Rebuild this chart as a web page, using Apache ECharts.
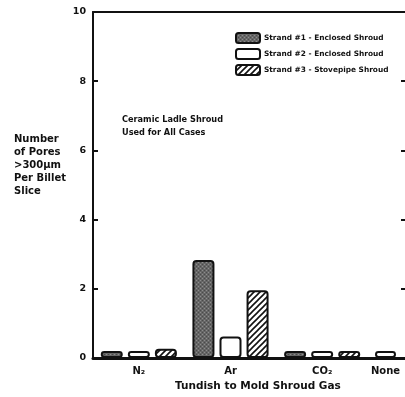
<!DOCTYPE html>
<html>
<head>
<meta charset="utf-8">
<script src="https://cdn.jsdelivr.net/npm/echarts@6/dist/echarts.min.js"></script>
<style>html,body{margin:0;padding:0;background:#fff;}#c{width:405px;height:397px;}</style>
</head>
<body>
<div id="c"></div>
<script>
// ---- data ----
var categories = ['N₂', 'Ar', 'CO₂', 'None'];
var strand1 = [0.2, 2.83, 0.2, null];
var strand2 = [0.2, 0.62, 0.2, 0.2];
var strand3 = [0.27, 1.96, 0.2, null];
var seriesNames = ['Strand #1 - Enclosed Shroud', 'Strand #2 - Enclosed Shroud', 'Strand #3 - Stovepipe Shroud'];
var yTicks = [0, 2, 4, 6, 8, 10];

// ---- patterns ----
function hatch() {
  var c = document.createElement('canvas'); c.width = 6; c.height = 6;
  var g = c.getContext('2d');
  g.fillStyle = '#fff'; g.fillRect(0, 0, 6, 6);
  g.strokeStyle = '#111'; g.lineWidth = 1.6;
  g.beginPath();
  g.moveTo(-1, 7); g.lineTo(7, -1);
  g.moveTo(-1, 1); g.lineTo(1, -1);
  g.moveTo(5, 7); g.lineTo(7, 5);
  g.stroke();
  return c;
}
function stipple() {
  var c = document.createElement('canvas'); c.width = 4; c.height = 4;
  var g = c.getContext('2d');
  g.fillStyle = '#666'; g.fillRect(0, 0, 4, 4);
  g.fillStyle = '#8c8c8c'; g.fillRect(0, 0, 1, 1); g.fillRect(2, 2, 1, 1);
  g.fillStyle = '#4a4a4a'; g.fillRect(2, 0, 1, 1); g.fillRect(0, 2, 1, 1);
  return c;
}

var FONT = '"DejaVu Sans", sans-serif';
var ink = '#111';
var main = categories.slice(0, 3);
var extra = categories.slice(3);

var baseItem = { borderColor: ink, borderWidth: 2, borderRadius: 3 };
var styles = [
  Object.assign({ color: { image: stipple(), repeat: 'repeat' } }, baseItem),
  Object.assign({ color: '#fff' }, baseItem),
  Object.assign({ color: { image: hatch(), repeat: 'repeat' } }, baseItem)
];

var chart = echarts.init(document.getElementById('c'), null, { renderer: 'canvas' });
var yMin = yTicks[0], yMax = yTicks[yTicks.length - 1], yStep = yTicks[1] - yTicks[0];

function xAx(grid, data, pos) {
  var bottom = pos === 'bottom';
  return {
    type: 'category', gridIndex: grid, data: data, position: pos,
    axisLine: { onZero: false, lineStyle: { color: ink, width: bottom ? 3 : 2 } },
    axisTick: { show: false },
    axisLabel: bottom ? { color: ink, fontFamily: FONT, fontWeight: 'bold', fontSize: 10, margin: 8 } : { show: false }
  };
}

chart.setOption({
  animation: false,
  backgroundColor: '#fff',
  textStyle: { fontFamily: FONT },
  grid: [
    { left: 93, width: 275, top: 12, bottom: 39 },
    { left: 366, right: -2, top: 12, bottom: 39 }
  ],
  legend: {
    orient: 'vertical', left: 230, top: 27,
    itemWidth: 24, itemHeight: 10, itemGap: 4,
    data: seriesNames,
    textStyle: { fontFamily: FONT, fontWeight: 'bold', fontSize: 7.4, color: ink, padding: [0, 0, 0, -1] }
  },
  xAxis: [
    xAx(0, main, 'bottom'), xAx(0, main, 'top'),
    xAx(1, extra, 'bottom'), xAx(1, extra, 'top')
  ],
  yAxis: [
    { type: 'value', gridIndex: 0, min: yMin, max: yMax, interval: yStep, position: 'left',
      axisLine: { show: true, onZero: false, lineStyle: { color: ink, width: 2 } },
      axisTick: { show: true, inside: true, length: 5, lineStyle: { color: ink, width: 2 } },
      splitLine: { show: false },
      axisLabel: { color: ink, fontFamily: FONT, fontWeight: 'bold', fontSize: 9.5, margin: 7 } },
    { type: 'value', gridIndex: 1, min: yMin, max: yMax, interval: yStep, position: 'left',
      axisLine: { show: false }, axisTick: { show: false }, splitLine: { show: false }, axisLabel: { show: false } },
    { type: 'value', gridIndex: 1, min: yMin, max: yMax, interval: yStep, position: 'right',
      axisLine: { show: false, onZero: false },
      axisTick: { show: true, inside: true, length: 4, lineStyle: { color: ink, width: 2 } },
      splitLine: { show: false }, axisLabel: { show: false } }
  ],
  series: [
    { name: seriesNames[0], type: 'bar', xAxisIndex: 0, yAxisIndex: 0, data: strand1.slice(0, 3),
      barWidth: 22, barGap: '23%', itemStyle: styles[0] },
    { name: seriesNames[1], type: 'bar', xAxisIndex: 0, yAxisIndex: 0, data: strand2.slice(0, 3),
      barWidth: 22, barGap: '23%', itemStyle: styles[1] },
    { name: seriesNames[2], type: 'bar', xAxisIndex: 0, yAxisIndex: 0, data: strand3.slice(0, 3),
      barWidth: 22, barGap: '23%', itemStyle: styles[2] },
    { name: seriesNames[1], type: 'bar', xAxisIndex: 2, yAxisIndex: 1, data: strand2.slice(3),
      barWidth: 21, itemStyle: styles[1] }
  ],
  graphic: [
    { type: 'text', left: 14, top: 133,
      style: { text: 'Number\nof Pores\n>300μm\nPer Billet\nSlice', fill: ink,
        font: 'bold 10px ' + FONT, lineHeight: 13 } },
    { type: 'text', left: 122, top: 113,
      style: { text: 'Ceramic Ladle Shroud\nUsed for All Cases', fill: ink,
        font: 'bold 8.2px ' + FONT, lineHeight: 13 } },
    { type: 'text', left: 175, top: 381,
      style: { text: 'Tundish to Mold Shroud Gas', fill: ink, font: 'bold 10.5px ' + FONT } }
  ]
});
</script>
</body>
</html>
